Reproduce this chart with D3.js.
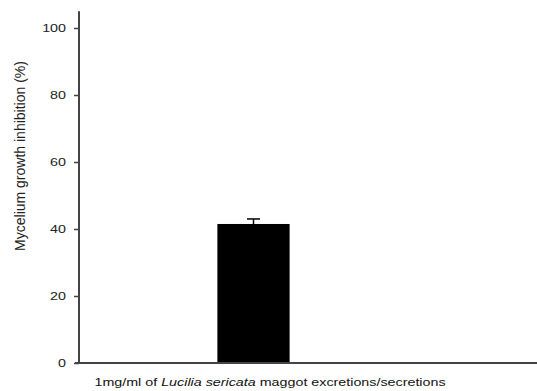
<!DOCTYPE html>
<meta charset="utf-8">
<style>
  body { margin: 0; background: #fff; }
  text { font-family: "Liberation Sans", Arial, sans-serif; }
</style>
<div id="chart"></div>
<script src="https://d3js.org/d3.v7.min.js"></script>
<script>

// data
var categories = ["1mg/ml of Lucilia sericata maggot excretions/secretions"];
var values = [41.5];
var errors = [1.5];
var yTicks = [0, 20, 40, 60, 80, 100];

var width = 537,
    height = 391,
    left = 79,
    bottom = 363,
    stretch = 1.3; // the source picture is widened horizontally

var svg = d3.select("#chart")
  .append("svg")
    .attr("width", width)
    .attr("height", height);

var y = d3.scaleLinear()
    .domain([0, 100])
    .range([bottom, 28]);

var x = d3.scaleBand()
    .domain(categories)
    .range([left, 428])
    .padding(0.657);

// bar
svg.append("g")
  .selectAll("rect")
  .data(values)
  .enter().append("rect")
    .attr("x", function(d, i) { return x(categories[i]); })
    .attr("y", function(d) { return y(d); })
    .attr("width", x.bandwidth())
    .attr("height", function(d) { return y(0) - y(d); })
    .attr("fill", "#000");

// error bar (upper only)
var err = svg.append("g")
  .selectAll("g")
  .data(values)
  .enter().append("g")
    .attr("stroke", "#000")
    .attr("stroke-width", 1.5);

err.append("line")
    .attr("x1", function(d, i) { return x(categories[i]) + x.bandwidth() / 2; })
    .attr("x2", function(d, i) { return x(categories[i]) + x.bandwidth() / 2; })
    .attr("y1", function(d) { return y(d); })
    .attr("y2", function(d, i) { return y(d + errors[i]); });

err.append("line")
    .attr("x1", function(d, i) { return x(categories[i]) + x.bandwidth() / 2 - 6.5; })
    .attr("x2", function(d, i) { return x(categories[i]) + x.bandwidth() / 2 + 6.5; })
    .attr("y1", function(d, i) { return y(d + errors[i]); })
    .attr("y2", function(d, i) { return y(d + errors[i]); });

// y axis
var yAxis = svg.append("g")
    .attr("transform", "translate(" + left + ",0)")
    .call(d3.axisLeft(y).tickValues(yTicks).tickSize(5).tickPadding(5));

yAxis.select(".domain").remove();
yAxis.selectAll(".tick line").attr("stroke", "#444").attr("stroke-width", 1.5);
yAxis.selectAll(".tick text")
    .attr("fill", "#222")
    .attr("transform", "scale(" + stretch + ",1)")
    .style("font-size", "11px")
    .style("font-family", "'Liberation Sans', Arial, sans-serif");

yAxis.append("line")
    .attr("y1", y(0))
    .attr("y2", y(105))
    .attr("stroke", "#444")
    .attr("stroke-width", 2);

// x axis line
svg.append("line")
    .attr("x1", left - 4)
    .attr("x2", width)
    .attr("y1", y(0))
    .attr("y2", y(0))
    .attr("stroke", "#444")
    .attr("stroke-width", 2);

// y label
svg.append("text")
    .attr("transform", "translate(25,156)rotate(-90)")
    .attr("text-anchor", "middle")
    .attr("fill", "#222")
    .style("font-size", "14px")
    .text("Mycelium growth inhibition (%)");

// x label with italic species name
var xl = svg.append("text")
    .attr("transform", "translate(270,386)scale(" + stretch + ",1)")
    .attr("text-anchor", "middle")
    .attr("fill", "#111")
    .style("font-size", "11px");

xl.append("tspan").text("1mg/ml of ");
xl.append("tspan").style("font-style", "italic").text("Lucilia sericata");
xl.append("tspan").text(" maggot excretions/secretions");

</script>
